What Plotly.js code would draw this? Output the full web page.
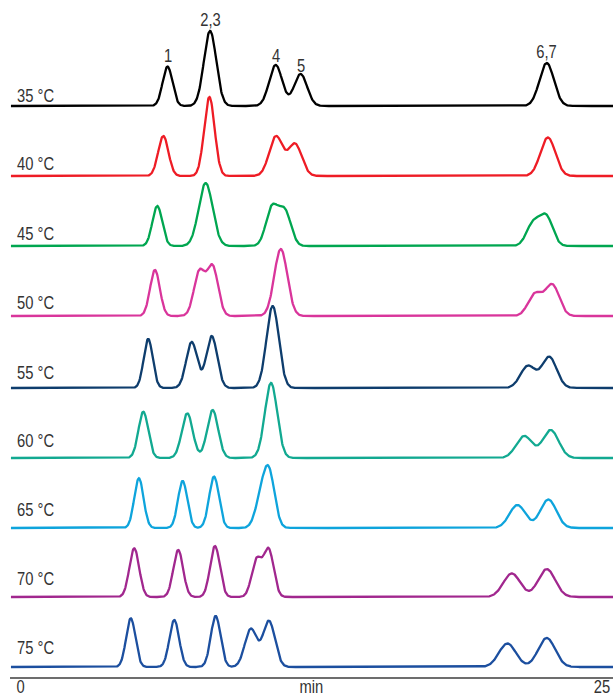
<!DOCTYPE html>
<html>
<head>
<meta charset="utf-8">
<script src="https://cdn.plot.ly/plotly-3.0.1.min.js"></script>
<style>
  html, body { margin: 0; padding: 0; background: #fff; }
  #chart { width: 613px; height: 696px; }
</style>
</head>
<body>
<div id="chart"></div>
<script>
// ---------------- DATA ----------------
const temperatures = ["35 °C", "40 °C", "45 °C", "50 °C", "55 °C", "60 °C", "65 °C", "70 °C", "75 °C"];

// Peak table of each chromatogram: retention time (min)
const peakTimes = [
  [6.32, 8.15, 10.97, 12.04, 22.62],
  [6.14, 8.12, 10.98, 11.80, 22.67],
  [5.88, 7.96, 10.81, 11.37, 22.03, 22.60],
  [5.78, 7.69, 8.26, 11.19, 22.12, 22.86],
  [5.49, 7.36, 8.22, 10.84, 21.81, 22.73],
  [5.28, 7.17, 8.26, 10.77, 21.65, 22.79],
  [5.09, 6.97, 8.32, 10.35, 10.70, 21.36, 22.69],
  [4.89, 6.78, 8.36, 10.15, 10.67, 21.12, 22.62],
  [4.74, 6.61, 8.39, 9.90, 10.68, 20.93, 22.62]
];
// peak heights (signal units)
const peakHeights = [
  [39.5, 75, 41, 32, 43],
  [40, 79, 39.5, 32, 38.5],
  [40, 63, 38, 34, 22, 29],
  [46, 44, 49, 67, 22, 31],
  [49, 46, 52, 82, 22, 31],
  [46.3, 44.7, 48, 75, 22, 28],
  [49.7, 47, 51.5, 28, 50, 23, 28.5],
  [48.7, 47, 51, 37, 47, 23.5, 28],
  [48.7, 47, 51, 38, 46, 23.5, 29]
];
// peak widths (standard deviation, min)
const peakWidths = [
  [0.21, 0.265, 0.28, 0.28, 0.31],
  [0.22, 0.225, 0.29, 0.29, 0.32],
  [0.21, 0.30, 0.26, 0.26, 0.28, 0.28],
  [0.21, 0.236, 0.236, 0.28, 0.30, 0.30],
  [0.195, 0.236, 0.236, 0.265, 0.32, 0.32],
  [0.21, 0.236, 0.236, 0.265, 0.344, 0.344],
  [0.20, 0.20, 0.21, 0.25, 0.24, 0.344, 0.344],
  [0.21, 0.21, 0.21, 0.215, 0.215, 0.365, 0.365],
  [0.20, 0.21, 0.21, 0.258, 0.258, 0.365, 0.365]
];

// Peak identification labels (above the 35 °C trace)
const peakLabels = ["1", "2,3", "4", "5", "6,7"];
const peakLabelTimes = [6.32, 8.15, 10.97, 12.04, 22.63];

// Axis tick labels
const tickValues = [0, 12.5, 25];
const tickTexts = ["0", "min", "25"];

// ---------------- STYLE / LAYOUT ----------------
const lineColors = ["#000000", "#ee1c25", "#00a650", "#d9359b", "#0e3d6d",
                    "#12a991", "#0ea4dc", "#a1278e", "#1c4f9f"];
const traceOffsets = [571, 501, 431, 361, 289, 219, 149, 80, 10];
const tempLabelY = [581, 513.5, 443, 374.3, 304.5, 236, 167, 97.7, 29.3];
const peakLabelY = [621, 657, 621, 611, 625];

const FONT = "'Liberation Sans', Arial, sans-serif";
const TEXT_COLOR = "#333333";
const NARROW = 0.82; // horizontal condensing of the labels (narrow sans look)

const xMin = -0.41, xMax = 25.47, dx = 0.02;
const grid = [];
for (let t = xMin; t <= xMax + 1e-9; t += dx) grid.push(+t.toFixed(3));

const traces = temperatures.map((name, i) => {
  const y = grid.map(t => {
    let s = 0;
    for (let k = 0; k < peakTimes[i].length; k++) {
      const d = (t - peakTimes[i][k]) / peakWidths[i][k];
      s += peakHeights[i][k] * Math.exp(-0.5 * d * d);
    }
    return s + traceOffsets[i];
  });
  return {
    x: grid, y: y, type: "scatter", mode: "lines", name: name,
    line: { color: lineColors[i], width: 2.3 },
    hoverinfo: "skip"
  };
});

const annotations = [];
temperatures.forEach((name, i) => {
  annotations.push({
    text: name, xref: "x", yref: "y", x: -0.25, y: tempLabelY[i],
    xanchor: "left", yanchor: "middle", align: "left", showarrow: false,
    font: { family: FONT, size: 18, color: TEXT_COLOR }
  });
});
peakLabels.forEach((lab, k) => {
  annotations.push({
    text: lab, xref: "x", yref: "y", x: peakLabelTimes[k], y: peakLabelY[k],
    xanchor: "center", yanchor: "middle", showarrow: false,
    font: { family: FONT, size: 18, color: TEXT_COLOR }
  });
});

const layout = {
  width: 613, height: 696,
  margin: { l: 10, r: 0, t: 0, b: 19 },
  paper_bgcolor: "#ffffff", plot_bgcolor: "#ffffff",
  showlegend: false,
  xaxis: {
    range: [-0.451, 25.47], showgrid: false, zeroline: false,
    showline: true, linecolor: "#6d6d6d", linewidth: 2,
    ticks: "", tickvals: tickValues, ticktext: tickTexts,
    ticklabelstandoff: -8,
    tickfont: { family: FONT, size: 18, color: TEXT_COLOR },
    fixedrange: true
  },
  yaxis: {
    range: [0, 677], visible: false, showgrid: false, zeroline: false, fixedrange: true
  },
  annotations: annotations
};

function condense(el) {
  const x = parseFloat(el.getAttribute("x") || "0");
  const prev = el.getAttribute("transform") || "";
  el.setAttribute("transform",
    prev + " translate(" + x + ",0) scale(" + NARROW + ",1) translate(" + (-x) + ",0)");
}

Plotly.newPlot("chart", traces, layout, { displayModeBar: false, staticPlot: true })
  .then(gd => {
    gd.querySelectorAll("text.annotation-text").forEach(condense);
    gd.querySelectorAll(".xtick text").forEach(condense);
  });
</script>
</body>
</html>
